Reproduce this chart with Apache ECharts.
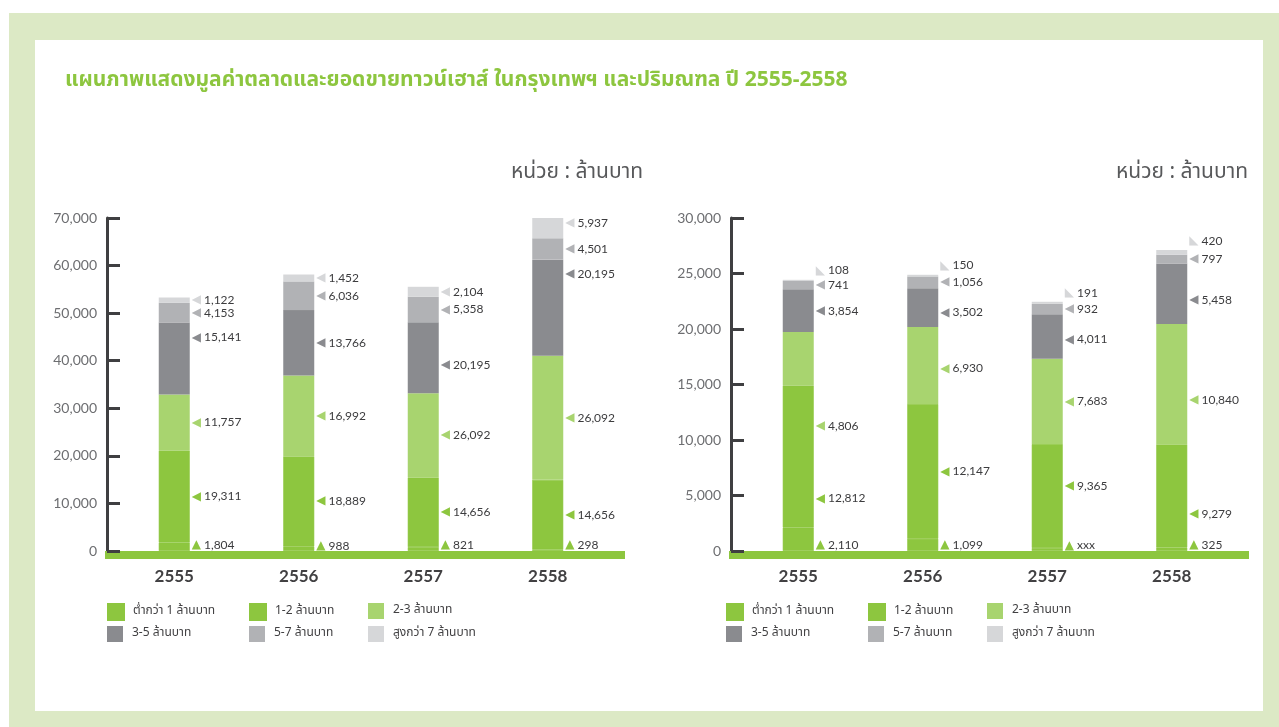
<!DOCTYPE html>
<html>
<head>
<meta charset="utf-8">
<script src="https://cdn.jsdelivr.net/npm/echarts@6/dist/echarts.min.js"></script>
<style>
html,body{margin:0;padding:0;background:#ffffff;}
#chart{width:1279px;height:727px;}
</style>
</head>
<body>
<div id="chart"></div>
<script>
// ---------- data ----------
const years = ['2555', '2556', '2557', '2558'];
const seriesNames = ['ต่ำกว่า 1 ล้านบาท', '1-2 ล้านบาท', '2-3 ล้านบาท', '3-5 ล้านบาท', '5-7 ล้านบาท', 'สูงกว่า 7 ล้านบาท'];

// left chart (market value, ล้านบาท) – bar heights
const valueBelow1 = [1804, 988, 821, 298];
const value1to2 = [19311, 18889, 14656, 14656];
const value2to3 = [11757, 16992, 17700, 26092];
const value3to5 = [15141, 13766, 14900, 20195];
const value5to7 = [4153, 6036, 5358, 4501];
const valueAbove7 = [1122, 1452, 2104, 5937];
// printed labels of the left chart
const valueLabelBelow1 = ['1,804', '988', '821', '298'];
const valueLabel1to2 = ['19,311', '18,889', '14,656', '14,656'];
const valueLabel2to3 = ['11,757', '16,992', '26,092', '26,092'];
const valueLabel3to5 = ['15,141', '13,766', '20,195', '20,195'];
const valueLabel5to7 = ['4,153', '6,036', '5,358', '4,501'];
const valueLabelAbove7 = ['1,122', '1,452', '2,104', '5,937'];

// right chart (sales)
const salesBelow1 = [2110, 1099, 270, 325];
const sales1to2 = [12812, 12147, 9365, 9279];
const sales2to3 = [4806, 6930, 7683, 10840];
const sales3to5 = [3854, 3502, 4011, 5458];
const sales5to7 = [741, 1056, 932, 797];
const salesAbove7 = [108, 150, 191, 420];
const salesLabelBelow1 = ['2,110', '1,099', 'xxx', '325'];
const salesLabel1to2 = ['12,812', '12,147', '9,365', '9,279'];
const salesLabel2to3 = ['4,806', '6,930', '7,683', '10,840'];
const salesLabel3to5 = ['3,854', '3,502', '4,011', '5,458'];
const salesLabel5to7 = ['741', '1,056', '932', '797'];
const salesLabelAbove7 = ['108', '150', '191', '420'];

const leftTicks = [0, 10000, 20000, 30000, 40000, 50000, 60000, 70000];
const rightTicks = [0, 5000, 10000, 15000, 20000, 25000, 30000];

// ---------- style ----------
const colors = ['#8dc63f', '#8dc63f', '#a8d46f', '#8a8b8f', '#b1b2b5', '#d6d7d9'];
const leftGlyphs = ['▲', '◀', '◀', '◀', '◀', '◀'];
const rightGlyphs = ['▲', '◀', '◀', '◀', '◀', '◣'];
// vertical nudges of printed labels (px), as laid out in the original artwork
const leftDy = [[-2, -3, -4, -5], [0, 0, 0, 0], [0, 0, 0, 0], [-21, 0, 7, -34], [0, 0, 0, 0], [0, 0, 0, -5]];
const rightDy = [[6, 0, -4, -4], [42, 0, -10, 18], [67, 3, 0, 16], [0, 5, 3, 6], [0, 0, 0, 0], [-10, -10, -10, -11]];

const numFont = "Lato, 'Open Sans', sans-serif";
const thaiFont = "'Noto Sans Thai', 'Noto Sans', sans-serif";

const leftValues = [valueBelow1, value1to2, value2to3, value3to5, value5to7, valueAbove7];
const leftLabels = [valueLabelBelow1, valueLabel1to2, valueLabel2to3, valueLabel3to5, valueLabel5to7, valueLabelAbove7];
const rightValues = [salesBelow1, sales1to2, sales2to3, sales3to5, sales5to7, salesAbove7];
const rightLabels = [salesLabelBelow1, salesLabel1to2, salesLabel2to3, salesLabel3to5, salesLabel5to7, salesLabelAbove7];

function makeSeries(idx, values, labels, glyphs, dys, stackName) {
  return values.map((vals, s) => ({
    type: 'bar',
    name: seriesNames[s],
    stack: stackName,
    xAxisIndex: idx,
    yAxisIndex: idx,
    barWidth: 31,
    itemStyle: s < 2 ? { color: colors[s], borderColor: colors[s], borderWidth: 0.6 } : { color: colors[s] },
    emphasis: { disabled: true },
    data: vals.map((v, i) => ({
      value: v,
      label: { offset: [0, dys[s][i]], formatter: '{t|' + glyphs[s] + '}{v|' + labels[s][i] + '}' }
    })),
    label: {
      show: true,
      position: 'right',
      distance: 2,
      rich: {
        t: { fontSize: 12, color: colors[s], fontFamily: "'DejaVu Sans', sans-serif" },
        v: { fontSize: 12, color: '#3c3c3e', fontFamily: numFont, padding: [0, 0, 0, 3] }
      }
    }
  }));
}

function catAxisCfg(grid) {
  return {
    gridIndex: grid,
    type: 'category',
    data: years,
    offset: 4,
    axisLine: { show: false },
    axisTick: { show: false },
    splitLine: { show: false },
    axisLabel: {
      margin: 13,
      fontSize: 17,
      fontWeight: 'bold',
      color: '#414042',
      fontFamily: numFont
    }
  };
}

function bandAxisCfg(grid) {
  return {
    gridIndex: grid,
    type: 'value',
    min: 0,
    max: 1,
    offset: 4,
    axisLine: { show: true, onZero: false, lineStyle: { color: '#8dc63f', width: 8, cap: 'butt' } },
    axisTick: { show: false },
    splitLine: { show: false },
    axisLabel: { show: false }
  };
}

function yAxisCfg(grid, max, interval) {
  return {
    gridIndex: grid,
    type: 'value',
    min: 0,
    max: max,
    interval: interval,
    offset: 5,
    axisLine: { show: true, onZero: false, lineStyle: { color: '#3f3f41', width: 3 } },
    axisTick: { show: true, inside: true, length: 13, lineStyle: { color: '#3f3f41', width: 3 } },
    splitLine: { show: false },
    axisLabel: {
      margin: 10,
      fontSize: 14,
      color: '#6d6e71',
      fontFamily: numFont,
      formatter: v => v.toLocaleString('en-US')
    }
  };
}

function hiddenYCfg(grid) {
  return { gridIndex: grid, type: 'value', min: 0, max: 1, show: false };
}

function legendCfg(name, left, top) {
  return {
    data: [name],
    left: left,
    top: top,
    padding: 0,
    itemWidth: 16,
    itemHeight: 16,
    icon: 'rect',
    selectedMode: false,
    textStyle: { fontSize: 12, color: '#414042', fontFamily: thaiFont, padding: [0, 0, 0, 4] }
  };
}

const legendCols = [[107, 249, 368], [726, 868, 987]];
const legendRows = [603, 626];
const legends = [];
legendCols.forEach(cols => {
  seriesNames.forEach((n, s) => {
    legends.push(legendCfg(n, cols[s % 3], legendRows[Math.floor(s / 3)]));
  });
});

const chart = echarts.init(document.getElementById('chart'), null, { renderer: 'canvas' });
chart.setOption({
  animation: false,
  backgroundColor: '#ffffff',
  graphic: [
    { type: 'rect', z: -10, shape: { x: 9, y: 13, width: 1270, height: 714 }, style: { fill: '#dce9c5' } },
    { type: 'rect', z: -9, shape: { x: 35, y: 40, width: 1228, height: 671 }, style: { fill: '#ffffff' } }
  ],
  title: [
    { text: 'แผนภาพแสดงมูลค่าตลาดและยอดขายทาวน์เฮาส์ ในกรุงเทพฯ และปริมณฑล ปี 2555-2558', left: 60, top: 66,
      textStyle: { color: '#8dc63f', fontSize: 21, fontWeight: 'bold', fontFamily: thaiFont } },
    { text: 'หน่วย : ล้านบาท', left: 506, top: 158,
      textStyle: { color: '#58595b', fontSize: 21, fontWeight: 'normal', fontFamily: thaiFont } },
    { text: 'หน่วย : ล้านบาท', left: 1111, top: 158,
      textStyle: { color: '#58595b', fontSize: 21, fontWeight: 'normal', fontFamily: thaiFont } }
  ],
  legend: legends,
  grid: [
    { left: 112, top: 218, width: 498, height: 333 },
    { left: 736, top: 218, width: 498, height: 333 },
    { left: 105, top: 218, width: 520, height: 333 },
    { left: 729, top: 218, width: 520, height: 333 }
  ],
  xAxis: [catAxisCfg(0), catAxisCfg(1), bandAxisCfg(2), bandAxisCfg(3)],
  yAxis: [
    yAxisCfg(0, leftTicks[leftTicks.length - 1], leftTicks[1]),
    yAxisCfg(1, rightTicks[rightTicks.length - 1], rightTicks[1]),
    hiddenYCfg(2),
    hiddenYCfg(3)
  ],
  series: [].concat(
    makeSeries(0, leftValues, leftLabels, leftGlyphs, leftDy, 'left'),
    makeSeries(1, rightValues, rightLabels, rightGlyphs, rightDy, 'right')
  )
});
</script>
</body>
</html>
